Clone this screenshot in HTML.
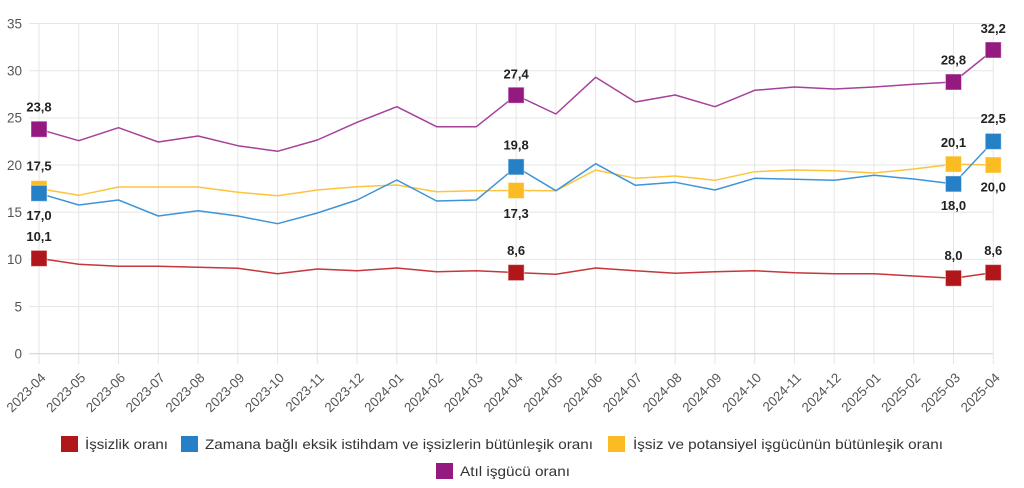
<!DOCTYPE html>
<html><head><meta charset="utf-8"><style>
html,body{margin:0;padding:0;background:#fff;}
svg{display:block;}
text{font-family:"Liberation Sans",Arial,sans-serif;}
</style></head><body>
<svg width="1024" height="488" viewBox="0 0 1024 488" xmlns="http://www.w3.org/2000/svg">
<g stroke="#e6e6e6" stroke-width="1">
<line x1="29" y1="23.5" x2="993.2" y2="23.5"/>
<line x1="29" y1="70.7" x2="993.2" y2="70.7"/>
<line x1="29" y1="117.9" x2="993.2" y2="117.9"/>
<line x1="29" y1="165.0" x2="993.2" y2="165.0"/>
<line x1="29" y1="212.2" x2="993.2" y2="212.2"/>
<line x1="29" y1="259.4" x2="993.2" y2="259.4"/>
<line x1="29" y1="306.5" x2="993.2" y2="306.5"/>
</g>
<g stroke="#e6e6e6" stroke-width="1">
<line x1="39" y1="23.5" x2="39" y2="364"/>
<line x1="78.76" y1="23.5" x2="78.76" y2="364"/>
<line x1="118.52" y1="23.5" x2="118.52" y2="364"/>
<line x1="158.28" y1="23.5" x2="158.28" y2="364"/>
<line x1="198.04" y1="23.5" x2="198.04" y2="364"/>
<line x1="237.8" y1="23.5" x2="237.8" y2="364"/>
<line x1="277.56" y1="23.5" x2="277.56" y2="364"/>
<line x1="317.32" y1="23.5" x2="317.32" y2="364"/>
<line x1="357.08" y1="23.5" x2="357.08" y2="364"/>
<line x1="396.84" y1="23.5" x2="396.84" y2="364"/>
<line x1="436.6" y1="23.5" x2="436.6" y2="364"/>
<line x1="476.36" y1="23.5" x2="476.36" y2="364"/>
<line x1="516.12" y1="23.5" x2="516.12" y2="364"/>
<line x1="555.88" y1="23.5" x2="555.88" y2="364"/>
<line x1="595.64" y1="23.5" x2="595.64" y2="364"/>
<line x1="635.4" y1="23.5" x2="635.4" y2="364"/>
<line x1="675.16" y1="23.5" x2="675.16" y2="364"/>
<line x1="714.92" y1="23.5" x2="714.92" y2="364"/>
<line x1="754.68" y1="23.5" x2="754.68" y2="364"/>
<line x1="794.44" y1="23.5" x2="794.44" y2="364"/>
<line x1="834.2" y1="23.5" x2="834.2" y2="364"/>
<line x1="873.96" y1="23.5" x2="873.96" y2="364"/>
<line x1="913.72" y1="23.5" x2="913.72" y2="364"/>
<line x1="953.48" y1="23.5" x2="953.48" y2="364"/>
<line x1="993.24" y1="23.5" x2="993.24" y2="364"/>
</g>
<line x1="29" y1="353.7" x2="993.2" y2="353.7" stroke="#d6d6d6" stroke-width="1.2"/>

<g font-size="13.5" fill="#555" text-anchor="end">
<text x="22" y="28.3">35</text>
<text x="22" y="75.5">30</text>
<text x="22" y="122.7">25</text>
<text x="22" y="169.8">20</text>
<text x="22" y="217">15</text>
<text x="22" y="264.2">10</text>
<text x="22" y="311.3">5</text>
<text x="22" y="358.5">0</text>
</g>

<g font-size="13.3" fill="#555" text-anchor="end" dominant-baseline="middle">
<text transform="translate(44,376) rotate(-45)">2023-04</text>
<text transform="translate(83.76,376) rotate(-45)">2023-05</text>
<text transform="translate(123.52,376) rotate(-45)">2023-06</text>
<text transform="translate(163.28,376) rotate(-45)">2023-07</text>
<text transform="translate(203.04,376) rotate(-45)">2023-08</text>
<text transform="translate(242.8,376) rotate(-45)">2023-09</text>
<text transform="translate(282.56,376) rotate(-45)">2023-10</text>
<text transform="translate(322.32,376) rotate(-45)">2023-11</text>
<text transform="translate(362.08,376) rotate(-45)">2023-12</text>
<text transform="translate(401.84,376) rotate(-45)">2024-01</text>
<text transform="translate(441.6,376) rotate(-45)">2024-02</text>
<text transform="translate(481.36,376) rotate(-45)">2024-03</text>
<text transform="translate(521.12,376) rotate(-45)">2024-04</text>
<text transform="translate(560.88,376) rotate(-45)">2024-05</text>
<text transform="translate(600.64,376) rotate(-45)">2024-06</text>
<text transform="translate(640.4,376) rotate(-45)">2024-07</text>
<text transform="translate(680.16,376) rotate(-45)">2024-08</text>
<text transform="translate(719.92,376) rotate(-45)">2024-09</text>
<text transform="translate(759.68,376) rotate(-45)">2024-10</text>
<text transform="translate(799.44,376) rotate(-45)">2024-11</text>
<text transform="translate(839.2,376) rotate(-45)">2024-12</text>
<text transform="translate(878.96,376) rotate(-45)">2025-01</text>
<text transform="translate(918.72,376) rotate(-45)">2025-02</text>
<text transform="translate(958.48,376) rotate(-45)">2025-03</text>
<text transform="translate(998.24,376) rotate(-45)">2025-04</text>
</g>

<g fill="none" stroke-width="1.5" stroke-linejoin="round">
<polyline stroke="#c6363a" points="39,258.4 78.76,264.3 118.52,266.3 158.28,266.3 198.04,267.3 237.8,268.3 277.56,273.7 317.32,269 357.08,270.7 396.84,268 436.6,271.7 476.36,270.7 516.12,272.6 555.88,274.3 595.64,268 635.4,270.7 675.16,273.3 714.92,271.7 754.68,270.7 794.44,272.7 834.2,273.7 873.96,273.7 913.72,276 953.48,278.2 993.24,272.6"/>
<polyline stroke="#fdc43e" points="39,188.6 78.76,195.3 118.52,187 158.28,187 198.04,187 237.8,192.3 277.56,195.7 317.32,190 357.08,186.7 396.84,185 436.6,191.7 476.36,190.7 516.12,190.5 555.88,190.7 595.64,170 635.4,178.3 675.16,176 714.92,180.3 754.68,171.7 794.44,170 834.2,170.7 873.96,173 913.72,169 953.48,164.1 993.24,165"/>
<polyline stroke="#3d95d8" points="39,193.3 78.76,205 118.52,200 158.28,216 198.04,210.7 237.8,216 277.56,223.7 317.32,213 357.08,200 396.84,180 436.6,201 476.36,200 516.12,166.9 555.88,190.7 595.64,163.7 635.4,185.3 675.16,182.3 714.92,190 754.68,178.3 794.44,179.3 834.2,180.3 873.96,175.3 913.72,179 953.48,183.9 993.24,141.4"/>
<polyline stroke="#a6409a" points="39,129.2 78.76,140.7 118.52,127.7 158.28,142 198.04,136 237.8,145.7 277.56,151.3 317.32,140 357.08,122.3 396.84,106.7 436.6,126.7 476.36,126.7 516.12,95.2 555.88,114 595.64,77.3 635.4,102 675.16,95 714.92,106.7 754.68,90.3 794.44,87 834.2,89 873.96,87 913.72,84.3 953.48,82 993.24,50"/>
</g>

<g stroke="#ffffff" stroke-opacity="0.45" stroke-width="1">
<g fill="#b0161a">
<rect x="31" y="250.4" width="16" height="16"/>
<rect x="508.12" y="264.6" width="16" height="16"/>
<rect x="945.48" y="270.2" width="16" height="16"/>
<rect x="985.24" y="264.6" width="16" height="16"/>
</g>
<g fill="#fbbc23">
<rect x="31" y="180.6" width="16" height="16"/>
<rect x="508.12" y="182.5" width="16" height="16"/>
<rect x="945.48" y="156.1" width="16" height="16"/>
<rect x="985.24" y="157" width="16" height="16"/>
</g>
<g fill="#2580c6">
<rect x="31" y="185.3" width="16" height="16"/>
<rect x="508.12" y="158.9" width="16" height="16"/>
<rect x="945.48" y="175.9" width="16" height="16"/>
<rect x="985.24" y="133.4" width="16" height="16"/>
</g>
<g fill="#951a80">
<rect x="31" y="121.2" width="16" height="16"/>
<rect x="508.12" y="87.2" width="16" height="16"/>
<rect x="945.48" y="74" width="16" height="16"/>
<rect x="985.24" y="42" width="16" height="16"/>
</g>
</g>

<g font-size="13" font-weight="bold" fill="#222" text-anchor="middle">
<text x="39" y="240.9">10,1</text>
<text x="516.12" y="255.1">8,6</text>
<text x="953.48" y="260.2">8,0</text>
<text x="993.24" y="255.1">8,6</text>
<text x="39" y="170.6">17,5</text>
<text x="516.12" y="217.8">17,3</text>
<text x="953.48" y="147.1">20,1</text>
<text x="993.24" y="191.7">20,0</text>
<text x="39" y="219.8">17,0</text>
<text x="516.12" y="149.4">19,8</text>
<text x="953.48" y="209.9">18,0</text>
<text x="993.24" y="123">22,5</text>
<text x="39" y="111.7">23,8</text>
<text x="516.12" y="78.7">27,4</text>
<text x="953.48" y="64.5">28,8</text>
<text x="993.24" y="32.8">32,2</text>
</g>

<g font-size="14" fill="#333">
<rect x="61" y="436" width="17" height="16" fill="#b0161a"/>
<text x="85" y="449" textLength="83" lengthAdjust="spacingAndGlyphs">İşsizlik oranı</text>
<rect x="181" y="436" width="17" height="16" fill="#2580c6"/>
<text x="205" y="449" textLength="388" lengthAdjust="spacingAndGlyphs">Zamana bağlı eksik istihdam ve işsizlerin bütünleşik oranı</text>
<rect x="608" y="436" width="17" height="16" fill="#fbbc23"/>
<text x="633" y="449" textLength="310" lengthAdjust="spacingAndGlyphs">İşsiz ve potansiyel işgücünün bütünleşik oranı</text>
<rect x="436" y="463" width="17" height="16" fill="#951a80"/>
<text x="460" y="476" textLength="110" lengthAdjust="spacingAndGlyphs">Atıl işgücü oranı</text>
</g>
</svg>
</body></html>
